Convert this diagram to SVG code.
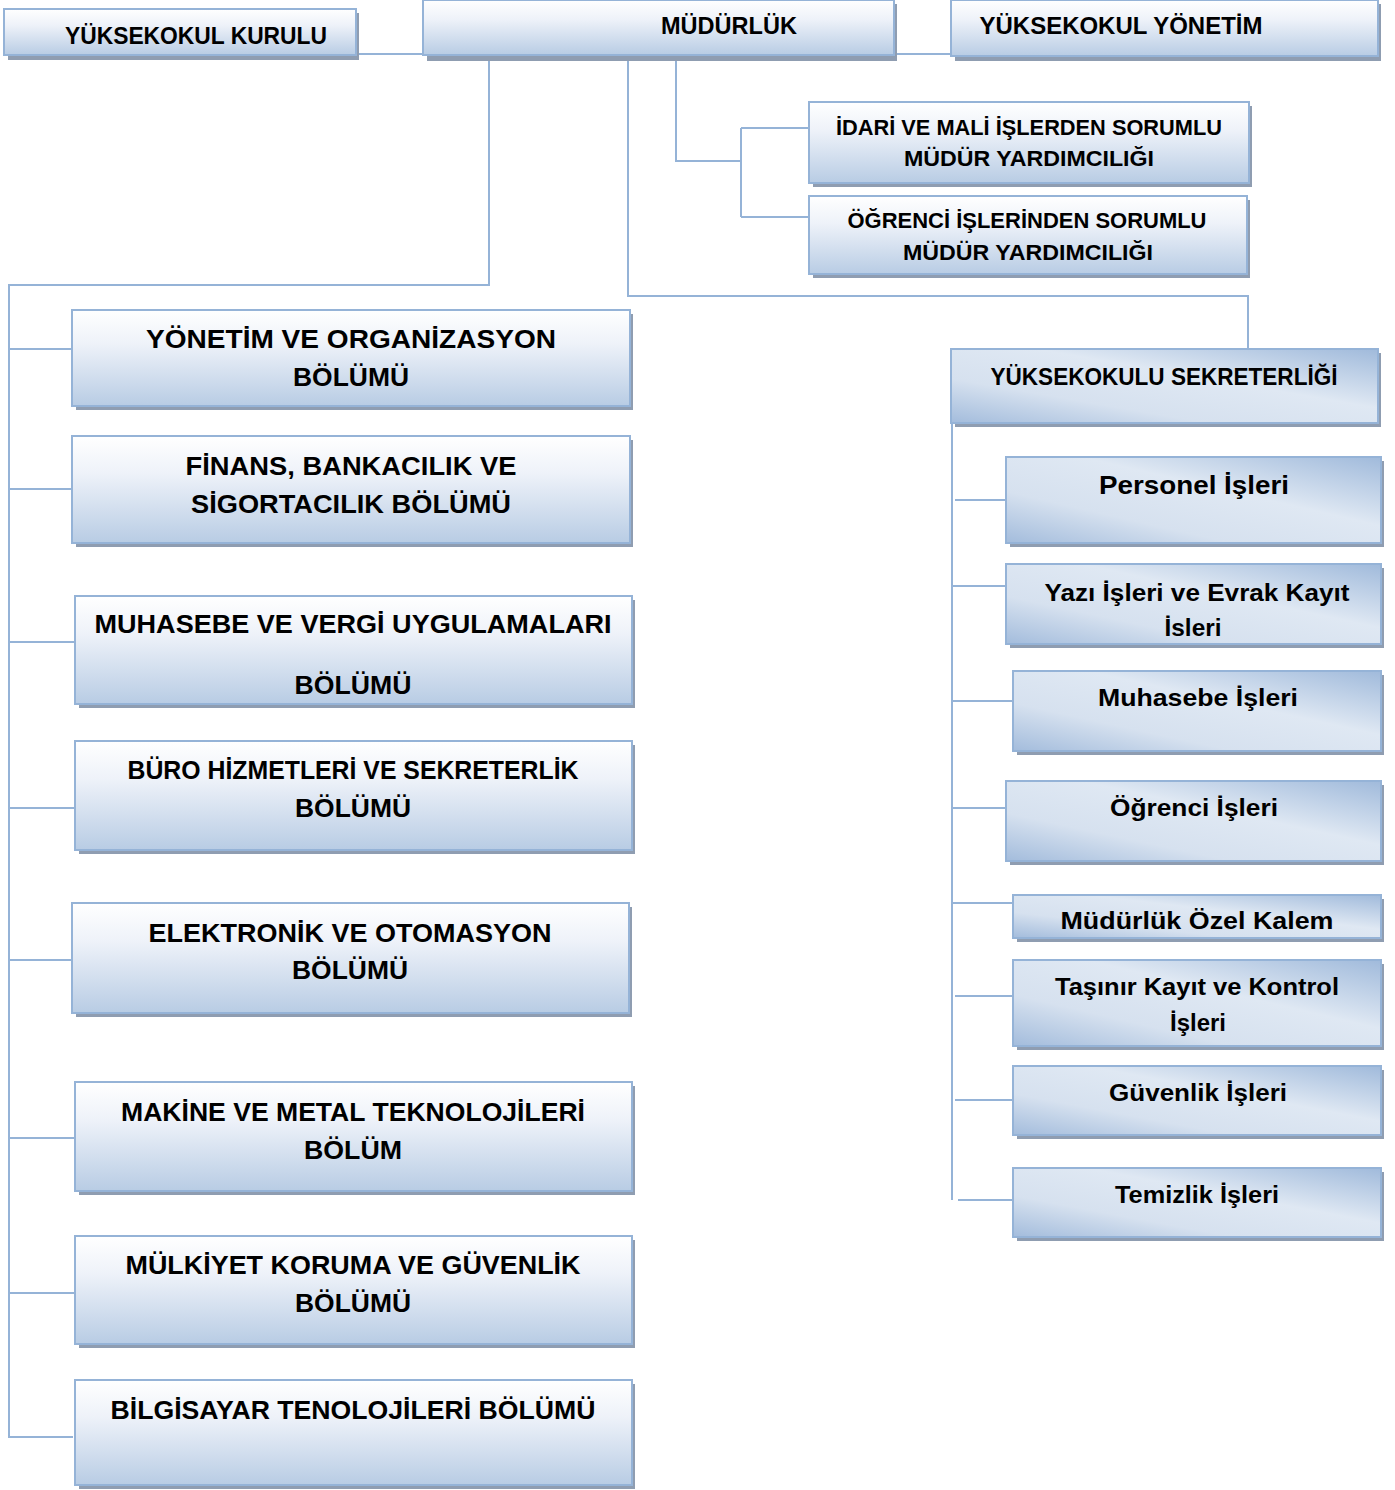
<svg xmlns="http://www.w3.org/2000/svg" width="1395" height="1490" viewBox="0 0 1395 1490">
<defs>
<linearGradient id="gv" x1="0" y1="0" x2="0" y2="1">
<stop offset="0" stop-color="#ffffff"/>
<stop offset="0.35" stop-color="#eef2f9"/>
<stop offset="1" stop-color="#b8cce4"/>
</linearGradient>
<linearGradient id="gd" x1="0" y1="1" x2="1" y2="0">
<stop offset="0" stop-color="#a3bcdc"/>
<stop offset="0.3" stop-color="#d6e1ef"/>
<stop offset="0.6" stop-color="#dfe8f3"/>
<stop offset="1" stop-color="#a0badb"/>
</linearGradient>
</defs>
<style>
.sh{fill:#8f9db1}
.bv{fill:url(#gv);stroke:#95b3d7;stroke-width:2}
.bd{fill:url(#gd);stroke:#95b3d7;stroke-width:2}
.t{font-family:"Liberation Sans","DejaVu Sans",sans-serif;font-weight:bold;fill:#000;text-anchor:middle}
.s26{font-size:26px}
.s24{font-size:24px}
.s22{font-size:22px}
.c{fill:none;stroke:#95b3d7;stroke-width:2}
</style>
<rect width="1395" height="1490" fill="#ffffff"/>
<g id="connectors">
<path class="c" d="M356 54H423M894 54H951"/>
<path class="c" d="M676 58V161H741M741 128V217M741 128H809M741 217H809"/>
<path class="c" d="M628 58V296H1248V349"/>
<path class="c" d="M489 58V285H9V1437H73"/>
<path class="c" d="M9 349H72M9 489H72M9 642H75M9 808H75M9 960H72M9 1138H75M9 1293H75"/>
<path class="c" d="M952 423V1200M955 500H1006M952 586H1006M952 701H1013M952 808H1006M952 903H1013M955 996H1013M955 1100H1013M958 1200H1013"/>
</g>
<g id="n-kurulu"><rect class="sh" x="8" y="13" width="351" height="47"/><rect class="bv" x="4" y="9" width="352" height="46"/><text class="t s24" x="196" y="44" textLength="262" lengthAdjust="spacingAndGlyphs">YÜKSEKOKUL KURULU</text></g>
<g id="n-mudurluk"><rect class="sh" x="427" y="4" width="470" height="57"/><rect class="bv" x="423" y="0" width="471" height="55"/><text class="t s24" x="729" y="34" textLength="136" lengthAdjust="spacingAndGlyphs">MÜDÜRLÜK</text></g>
<g id="n-yonetim"><rect class="sh" x="955" y="4" width="426" height="57"/><rect class="bv" x="951" y="0" width="427" height="56"/><text class="t s24" x="1121" y="34" textLength="283" lengthAdjust="spacingAndGlyphs">YÜKSEKOKUL YÖNETİM</text></g>
<g id="n-idari"><rect class="sh" x="813" y="106" width="439" height="81"/><rect class="bv" x="809" y="102" width="440" height="81"/><text class="t s22" x="1029" y="135" textLength="386" lengthAdjust="spacingAndGlyphs">İDARİ VE MALİ İŞLERDEN SORUMLU</text><text class="t s22" x="1029" y="166" textLength="250" lengthAdjust="spacingAndGlyphs">MÜDÜR YARDIMCILIĞI</text></g>
<g id="n-ogrenci-yrd"><rect class="sh" x="813" y="200" width="437" height="78"/><rect class="bv" x="809" y="196" width="438" height="78"/><text class="t s22" x="1027" y="228" textLength="359" lengthAdjust="spacingAndGlyphs">ÖĞRENCİ İŞLERİNDEN SORUMLU</text><text class="t s22" x="1028" y="260" textLength="250" lengthAdjust="spacingAndGlyphs">MÜDÜR YARDIMCILIĞI</text></g>
<g id="n-yo"><rect class="sh" x="76" y="314" width="557" height="96"/><rect class="bv" x="72" y="310" width="558" height="96"/><text class="t s26" x="351" y="348" textLength="410" lengthAdjust="spacingAndGlyphs">YÖNETİM VE ORGANİZASYON</text><text class="t s26" x="351" y="386" textLength="116" lengthAdjust="spacingAndGlyphs">BÖLÜMÜ</text></g>
<g id="n-fin"><rect class="sh" x="76" y="440" width="557" height="107"/><rect class="bv" x="72" y="436" width="558" height="107"/><text class="t s26" x="351" y="475" textLength="331" lengthAdjust="spacingAndGlyphs">FİNANS, BANKACILIK VE</text><text class="t s26" x="351" y="513" textLength="320" lengthAdjust="spacingAndGlyphs">SİGORTACILIK BÖLÜMÜ</text></g>
<g id="n-muh"><rect class="sh" x="79" y="600" width="556" height="108"/><rect class="bv" x="75" y="596" width="557" height="108"/><text class="t s26" x="353" y="633" textLength="517" lengthAdjust="spacingAndGlyphs">MUHASEBE VE VERGİ UYGULAMALARI</text><text class="t s26" x="353" y="694" textLength="117" lengthAdjust="spacingAndGlyphs">BÖLÜMÜ</text></g>
<g id="n-buro"><rect class="sh" x="79" y="745" width="556" height="109"/><rect class="bv" x="75" y="741" width="557" height="109"/><text class="t s26" x="353" y="779" textLength="451" lengthAdjust="spacingAndGlyphs">BÜRO HİZMETLERİ VE SEKRETERLİK</text><text class="t s26" x="353" y="817" textLength="116" lengthAdjust="spacingAndGlyphs">BÖLÜMÜ</text></g>
<g id="n-elek"><rect class="sh" x="76" y="907" width="556" height="110"/><rect class="bv" x="72" y="903" width="557" height="110"/><text class="t s26" x="350" y="942" textLength="403" lengthAdjust="spacingAndGlyphs">ELEKTRONİK VE OTOMASYON</text><text class="t s26" x="350" y="979" textLength="116" lengthAdjust="spacingAndGlyphs">BÖLÜMÜ</text></g>
<g id="n-mak"><rect class="sh" x="79" y="1086" width="556" height="109"/><rect class="bv" x="75" y="1082" width="557" height="109"/><text class="t s26" x="353" y="1121" textLength="464" lengthAdjust="spacingAndGlyphs">MAKİNE VE METAL TEKNOLOJİLERİ</text><text class="t s26" x="353" y="1159" textLength="98" lengthAdjust="spacingAndGlyphs">BÖLÜM</text></g>
<g id="n-mulk"><rect class="sh" x="79" y="1240" width="556" height="108"/><rect class="bv" x="75" y="1236" width="557" height="108"/><text class="t s26" x="353" y="1274" textLength="455" lengthAdjust="spacingAndGlyphs">MÜLKİYET KORUMA VE GÜVENLİK</text><text class="t s26" x="353" y="1312" textLength="116" lengthAdjust="spacingAndGlyphs">BÖLÜMÜ</text></g>
<g id="n-bilg"><rect class="sh" x="79" y="1384" width="556" height="105"/><rect class="bv" x="75" y="1380" width="557" height="105"/><text class="t s26" x="353" y="1419" textLength="485" lengthAdjust="spacingAndGlyphs">BİLGİSAYAR TENOLOJİLERİ BÖLÜMÜ</text></g>
<g id="n-sek"><rect class="sh" x="955" y="353" width="426" height="74"/><rect class="bd" x="951" y="349" width="427" height="74"/><text class="t s24" x="1164" y="385" textLength="347" lengthAdjust="spacingAndGlyphs">YÜKSEKOKULU SEKRETERLİĞİ</text></g>
<g id="n-pers"><rect class="sh" x="1010" y="461" width="374" height="86"/><rect class="bd" x="1006" y="457" width="375" height="86"/><text class="t s26" x="1194" y="494" textLength="190" lengthAdjust="spacingAndGlyphs">Personel İşleri</text></g>
<g id="n-yazi"><rect class="sh" x="1010" y="568" width="374" height="80"/><rect class="bd" x="1006" y="564" width="375" height="80"/><text class="t s24" x="1197" y="601" textLength="305" lengthAdjust="spacingAndGlyphs">Yazı İşleri ve Evrak Kayıt</text><text class="t s24" x="1193" y="636" textLength="57" lengthAdjust="spacingAndGlyphs">İsleri</text></g>
<g id="n-muhis"><rect class="sh" x="1017" y="675" width="367" height="80"/><rect class="bd" x="1013" y="671" width="368" height="80"/><text class="t s24" x="1198" y="706" textLength="200" lengthAdjust="spacingAndGlyphs">Muhasebe İşleri</text></g>
<g id="n-ogris"><rect class="sh" x="1010" y="785" width="374" height="80"/><rect class="bd" x="1006" y="781" width="375" height="80"/><text class="t s24" x="1194" y="816" textLength="168" lengthAdjust="spacingAndGlyphs">Öğrenci İşleri</text></g>
<g id="n-ozel"><rect class="sh" x="1017" y="899" width="367" height="43"/><rect class="bd" x="1013" y="895" width="368" height="43"/><text class="t s24" x="1197" y="929" textLength="273" lengthAdjust="spacingAndGlyphs">Müdürlük Özel Kalem</text></g>
<g id="n-tas"><rect class="sh" x="1017" y="964" width="367" height="86"/><rect class="bd" x="1013" y="960" width="368" height="86"/><text class="t s24" x="1197" y="995" textLength="284" lengthAdjust="spacingAndGlyphs">Taşınır Kayıt ve Kontrol</text><text class="t s24" x="1198" y="1031" textLength="56" lengthAdjust="spacingAndGlyphs">İşleri</text></g>
<g id="n-guv"><rect class="sh" x="1017" y="1070" width="367" height="69"/><rect class="bd" x="1013" y="1066" width="368" height="69"/><text class="t s24" x="1198" y="1101" textLength="178" lengthAdjust="spacingAndGlyphs">Güvenlik İşleri</text></g>
<g id="n-tem"><rect class="sh" x="1017" y="1172" width="367" height="69"/><rect class="bd" x="1013" y="1168" width="368" height="69"/><text class="t s24" x="1197" y="1203" textLength="164" lengthAdjust="spacingAndGlyphs">Temizlik İşleri</text></g>
</svg>
